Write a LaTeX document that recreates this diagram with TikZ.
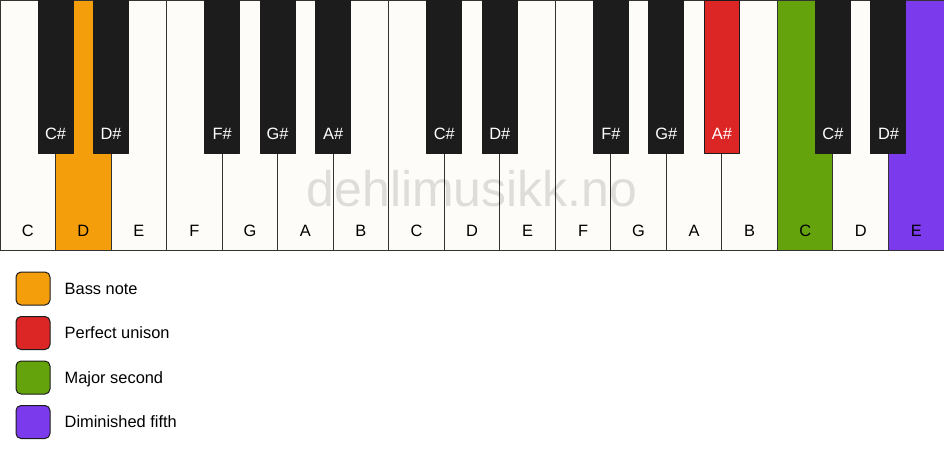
\documentclass[tikz,border=0pt]{standalone}
\usepackage{fontspec}
\setmainfont{Liberation Sans}
\usetikzlibrary{positioning}
\definecolor{keywhite}{HTML}{FDFCF9}
\definecolor{keyblack}{HTML}{1C1C1C}
\definecolor{keyline}{HTML}{333333}
\definecolor{bassnote}{HTML}{F59E0B}
\definecolor{unison}{HTML}{DC2626}
\definecolor{majsecond}{HTML}{65A30D}
\definecolor{dimfifth}{HTML}{7C3AED}
\tikzset{
	whitekey/.style={draw=keyline,line width=1pt,minimum width=55.53pt,minimum height=250pt,inner sep=0pt,outer sep=0pt},
	blackkey/.style={draw=keyblack,line width=1pt,minimum width=35pt,minimum height=153pt,inner sep=0pt,outer sep=0pt},
	keyname/.style={anchor=base,inner sep=0pt,yshift=14pt},
	legendbox/.style={draw=keyblack,line width=1pt,rounded corners=5pt,minimum width=34pt,minimum height=33pt,inner sep=0pt},
	legendtext/.style={anchor=west,inner sep=0pt,text height=11.8pt,text depth=0pt}
}
\begin{document}
\begin{tikzpicture}[x=1pt,y=-1pt,line join=round,font=\fontsize{16.4}{19}\selectfont]
	\useasboundingbox[fill=white] (0,0) rectangle (944,461);
	
	% white keys
	\foreach \n/\c [count=\i from 0] in {C/keywhite,D/bassnote,E/keywhite,F/keywhite,G/keywhite,A/keywhite,B/keywhite,C/keywhite,D/keywhite,E/keywhite,F/keywhite,G/keywhite,A/keywhite,B/keywhite,C/majsecond,D/keywhite,E/dimfifth}
	{
		\node[whitekey,fill=\c] (w\i) at ({(\i+0.5)*55.53},125) {};
		\node[keyname] (wn\i) at (w\i.south) {\n};
	}
	
	% black keys
	\foreach \b/\n/\c in {1/C/keyblack,2/D/keyblack,4/F/keyblack,5/G/keyblack,6/A/keyblack,8/C/keyblack,9/D/keyblack,11/F/keyblack,12/G/keyblack,13/A/unison,15/C/keyblack,16/D/keyblack}
	{
		\node[blackkey,fill=\c] (b\b) at ({\b*55.53},76.5) {};
		\node[keyname,text=white] (bn\b) at (b\b.south) {\n\#};
	}
	
	\node[text=black,text opacity=0.12,font=\fontsize{50}{52}\selectfont] (wm) at (472,189) {dehlimusikk.no};
	
	% legend
	\foreach \c/\t [count=\i] in {bassnote/Bass note,unison/Perfect unison,majsecond/Major second,dimfifth/Diminished fifth}
	{
		\node[legendbox,fill=\c] (lb\i) at (33,{288.5+(\i-1)*44.5}) {};
		\node[legendtext,right=14pt of lb\i.east] (lt\i) {\t};
	}
\end{tikzpicture}
\end{document}
